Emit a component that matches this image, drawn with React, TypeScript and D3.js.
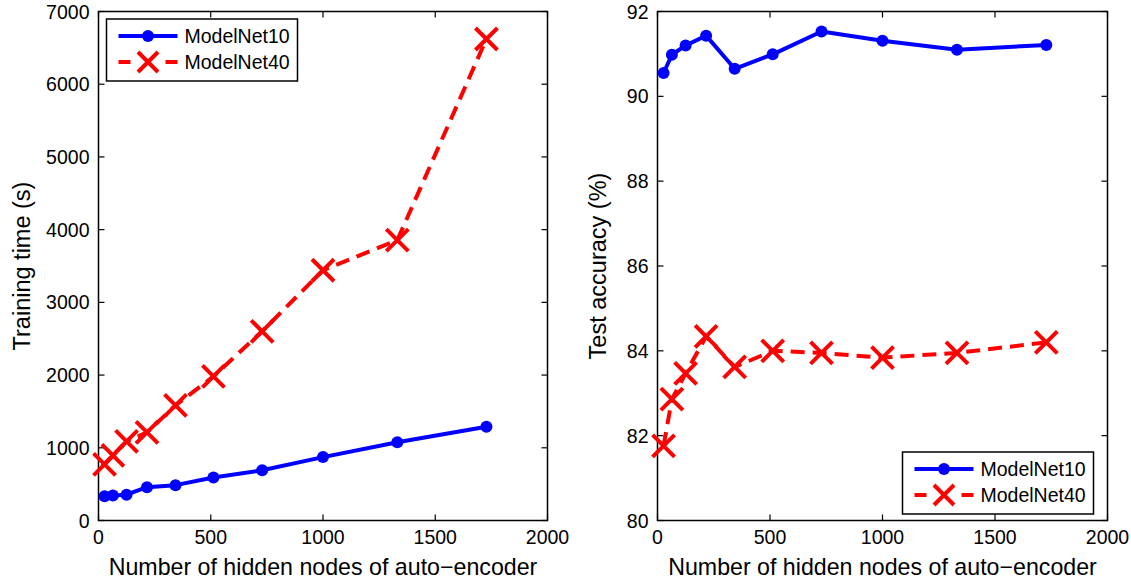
import React from 'react';
import * as d3 from 'd3';

const WIDTH = 1131;
const HEIGHT = 583;
const FONT = '"Liberation Sans", Arial, Helvetica, sans-serif';

// hidden nodes (cubes 3^3 .. 12^3)
const hiddenNodes = [27, 64, 125, 216, 343, 512, 729, 1000, 1331, 1728];

const timeModelNet10 = [335, 345, 355, 458, 486, 592, 690, 872, 1075, 1290];
const timeModelNet40 = [771, 895, 1087, 1211, 1583, 1982, 2602, 3442, 3855, 6622];

const accModelNet10 = [90.55, 90.98, 91.2, 91.43, 90.65, 90.99, 91.53, 91.31, 91.1, 91.21];
const accModelNet40 = [81.76, 82.86, 83.47, 84.34, 83.62, 84.0, 83.95, 83.84, 83.95, 84.2];

const xTicks = [0, 500, 1000, 1500, 2000];
const timeTicks = [0, 1000, 2000, 3000, 4000, 5000, 6000, 7000];
const accTicks = [80, 82, 84, 86, 88, 90, 92];

const seriesNames = ['ModelNet10', 'ModelNet40'];

const BLUE = '#0000ff';
const RED = '#ff0000';
const LW = 4;
const DASH = '14,8';

const Cross = ({ cx, cy, r = 11 }) => (
  <path
    d={`M${cx - r},${cy - r}L${cx + r},${cy + r}M${cx - r},${cy + r}L${cx + r},${cy - r}`}
    stroke={RED}
    strokeWidth={4}
    fill="none"
  />
);

const Legend = ({ x, y }) => {
  const w = 191;
  const h = 62;
  return (
    <g transform={`translate(${x},${y})`}>
      <rect width={w} height={h} fill="#fff" stroke="#000" strokeWidth={1.5} />
      <line x1={12} x2={71} y1={17} y2={17} stroke={BLUE} strokeWidth={LW} />
      <circle cx={41.5} cy={17} r={6} fill={BLUE} />
      <line x1={12} x2={24} y1={43} y2={43} stroke={RED} strokeWidth={LW} />
      <line x1={59} x2={71} y1={43} y2={43} stroke={RED} strokeWidth={LW} />
      <Cross cx={41.5} cy={43} r={10} />
      <text x={78} y={24} fontSize={19.5} fontFamily={FONT}>{seriesNames[0]}</text>
      <text x={78} y={50} fontSize={19.5} fontFamily={FONT}>{seriesNames[1]}</text>
    </g>
  );
};

const Panel = ({ left, right, top, bottom, yDomain, yTicks, a, b, yLabel, yLabelX, legend }) => {
  const x = d3.scaleLinear().domain([0, 2000]).range([left, right]);
  const y = d3.scaleLinear().domain(yDomain).range([bottom, top]);
  const line = d3.line<number>()
    .x((_, i) => x(hiddenNodes[i]))
    .y(d => y(d));
  const tk = 6;
  return (
    <g>
      <rect x={left} y={top} width={right - left} height={bottom - top} fill="#fff" stroke="#000" strokeWidth={1.5} />
      {xTicks.map(t => (
        <g key={'x' + t}>
          <line x1={x(t)} x2={x(t)} y1={bottom} y2={bottom - tk} stroke="#000" strokeWidth={1.2} />
          <line x1={x(t)} x2={x(t)} y1={top} y2={top + tk} stroke="#000" strokeWidth={1.2} />
          <text x={x(t)} y={bottom + 23} textAnchor="middle" fontSize={19.5} fontFamily={FONT}>{t}</text>
        </g>
      ))}
      {yTicks.map(t => (
        <g key={'y' + t}>
          <line x1={left} x2={left + tk} y1={y(t)} y2={y(t)} stroke="#000" strokeWidth={1.2} />
          <line x1={right} x2={right - tk} y1={y(t)} y2={y(t)} stroke="#000" strokeWidth={1.2} />
          <text x={left - 9} y={y(t) + 7} textAnchor="end" fontSize={19.5} fontFamily={FONT}>{t}</text>
        </g>
      ))}
      <path d={line(a)} fill="none" stroke={BLUE} strokeWidth={LW} strokeLinejoin="round" />
      {a.map((d, i) => <circle key={'a' + i} cx={x(hiddenNodes[i])} cy={y(d)} r={6} fill={BLUE} />)}
      <path d={line(b)} fill="none" stroke={RED} strokeWidth={LW} strokeDasharray={DASH} />
      {b.map((d, i) => <Cross key={'b' + i} cx={x(hiddenNodes[i])} cy={y(d)} />)}
      <text
        x={(left + right) / 2}
        y={bottom + 54}
        textAnchor="middle"
        fontSize={23.2}
        fontFamily={FONT}
      >
        Number of hidden nodes of auto−encoder
      </text>
      <text
        transform={`translate(${yLabelX},${(top + bottom) / 2}) rotate(-90)`}
        textAnchor="middle"
        fontSize={23.5}
        fontFamily={FONT}
      >
        {yLabel}
      </text>
      <Legend x={legend[0]} y={legend[1]} />
    </g>
  );
};

export default function App() {
  return (
    <svg
      width={WIDTH}
      height={HEIGHT}
      viewBox={`0 0 ${WIDTH} ${HEIGHT}`}
      style={{ position: 'absolute', left: 0, top: 0, background: '#fff' }}
    >
      <rect width={WIDTH} height={HEIGHT} fill="#fff" />
      <Panel
        left={98.5}
        right={547.5}
        top={11.5}
        bottom={520.5}
        yDomain={[0, 7000]}
        yTicks={timeTicks}
        a={timeModelNet10}
        b={timeModelNet40}
        yLabel="Training time (s)"
        yLabelX={30}
        legend={[106.5, 19]}
      />
      <Panel
        left={657.5}
        right={1107.5}
        top={11.5}
        bottom={520.5}
        yDomain={[80, 92]}
        yTicks={accTicks}
        a={accModelNet10}
        b={accModelNet40}
        yLabel="Test accuracy (%)"
        yLabelX={606}
        legend={[902.5, 452]}
      />
    </svg>
  );
}
